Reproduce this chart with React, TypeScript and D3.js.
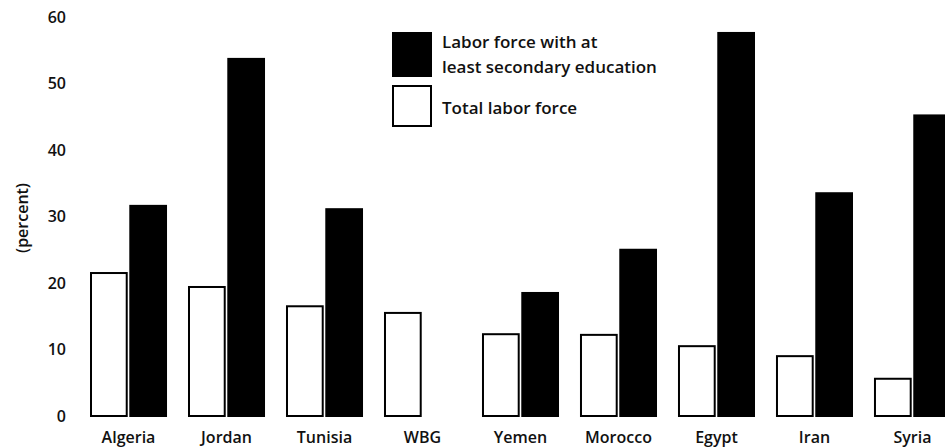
import React, { useRef, useEffect } from 'react';
import * as d3 from 'd3';

// Chart data
const countries = ['Algeria', 'Jordan', 'Tunisia', 'WBG', 'Yemen', 'Morocco', 'Egypt', 'Iran', 'Syria'];
const totalLaborForce = [21.5, 19.4, 16.5, 15.5, 12.3, 12.2, 10.5, 9.0, 5.6];
const secondaryEducation = [31.6, 53.7, 31.1, null, 18.5, 25.0, 57.6, 33.5, 45.2];
const yTicks = [0, 10, 20, 30, 40, 50, 60];
const seriesKeys = ['total', 'secondary'];
const legendItems = [
    { key: 'secondary', lines: ['Labor force with at', 'least secondary education'] },
    { key: 'total', lines: ['Total labor force'] }
];

const FONT = '"Open Sans", "Liberation Sans", sans-serif';

function Chart() {
    const svgRef = useRef<SVGSVGElement>(null)

    useEffect(() => {
        drawChart()
    }, [])

    const drawChart = () => {
        const svg = d3.select(svgRef.current)
        svg.selectAll('*').remove()

        const rows = countries.map((c, i) => ({
            country: c,
            total: totalLaborForce[i],
            secondary: secondaryEducation[i]
        }))

        // Outer band for countries, inner band for the two series
        const x = d3
            .scaleBand()
            .domain(countries)
            .range([90, 951])
            .paddingInner(0.214)
            .paddingOuter(0)

        const xSub = d3
            .scaleBand()
            .domain(seriesKeys)
            .range([0, x.bandwidth()])
            .paddingInner(0.04)

        const y = d3.scaleLinear().domain([0, 60]).range([416, 17])

        const fill = d3.scaleOrdinal().domain(seriesKeys).range(['#ffffff', '#000000'])

        // y axis: labels only, no line or ticks
        const yAxis = svg
            .append('g')
            .attr('transform', 'translate(66, 0)')
            .call(d3.axisLeft(y).tickValues(yTicks).tickSize(0).tickPadding(0))
        yAxis.select('.domain').remove()
        yAxis
            .selectAll('text')
            .attr('font-family', FONT)
            .attr('font-size', 16)
            .attr('font-weight', 600)
            .attr('fill', '#111')

        // y axis title
        svg
            .append('text')
            .attr('transform', 'translate(22, 218) rotate(-90)')
            .attr('text-anchor', 'middle')
            .attr('dy', '0.35em')
            .attr('font-family', FONT)
            .attr('font-size', 16)
            .attr('font-weight', 600)
            .attr('fill', '#111')
            .text('(percent)')

        // Bars
        const groups = svg
            .selectAll('g.group')
            .data(rows)
            .join('g')
            .attr('class', 'group')
            .attr('transform', d => `translate(${x(d.country)}, 0)`)

        groups
            .selectAll('rect')
            .data(d => seriesKeys.map(k => ({ key: k, value: d[k] })).filter(v => v.value != null))
            .join('rect')
            .attr('x', d => xSub(d.key) + 1)
            .attr('y', d => y(d.value))
            .attr('width', xSub.bandwidth() - 2)
            .attr('height', d => y(0) - y(d.value))
            .attr('fill', d => fill(d.key))
            .attr('stroke', '#000')
            .attr('stroke-width', 2)

        // Country labels
        svg
            .selectAll('.country-label')
            .data(rows)
            .join('text')
            .attr('class', 'country-label')
            .attr('x', d => x(d.country) + x.bandwidth() / 2)
            .attr('y', 437)
            .attr('dy', '0.35em')
            .attr('text-anchor', 'middle')
            .attr('font-family', FONT)
            .attr('font-size', 16)
            .attr('font-weight', 600)
            .attr('fill', '#111')
            .text(d => d.country)

        // Legend
        const legend = svg.append('g').attr('transform', 'translate(393, 33)')
        const legendRows = legend
            .selectAll('.legend')
            .data(legendItems)
            .join('g')
            .attr('class', 'legend')
            .attr('transform', (d, i) => `translate(0, ${i * 54})`)

        legendRows
            .append('rect')
            .attr('width', 38)
            .attr('height', d => (d.lines.length > 1 ? 43 : 40))
            .attr('y', (d, i) => (i === 0 ? 0 : -1))
            .attr('fill', d => fill(d.key))
            .attr('stroke', '#000')
            .attr('stroke-width', 2)

        legendRows
            .selectAll('text')
            .data(d => d.lines.map((line, j) => ({ line, j, n: d.lines.length })))
            .join('text')
            .attr('x', 49)
            .attr('y', d => (d.n > 1 ? 9 + d.j * 25 : 21))
            .attr('dy', '0.35em')
            .attr('font-family', FONT)
            .attr('font-size', 17)
            .attr('font-weight', 600)
            .attr('fill', '#111')
            .text(d => d.line)
    }

    return <svg ref={svgRef} width={945} height={448} style={{ display: 'block' }} />
}

export default function App() {
    return (
        <div style={{ position: 'fixed', top: 0, left: 0, width: 945, height: 448, overflow: 'hidden', background: '#fff' }}>
            <Chart />
        </div>
    )
}
